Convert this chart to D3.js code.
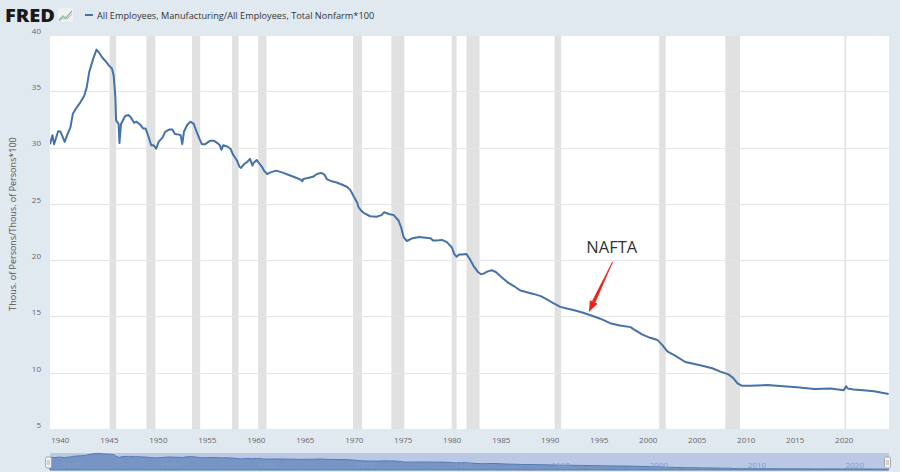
<!DOCTYPE html>
<html>
<head>
<meta charset="utf-8">
<script src="https://cdn.jsdelivr.net/npm/d3@7/dist/d3.min.js"></script>
<style>
  html, body { margin: 0; padding: 0; background: #e1e9f0; }
  svg { display: block; }
  text { font-family: "Open Sans", "Noto Sans", sans-serif; }
</style>
</head>
<body>
<svg id="chart" width="900" height="472"></svg>
<script>
// ---- Data ----
const seriesName = "All Employees, Manufacturing/All Employees, Total Nonfarm*100";
const yAxisTitle = "Thous. of Persons/Thous. of Persons*100";

const dates = [
  "1939-01","1939-04","1939-06","1939-11","1940-02","1940-07","1940-10","1941-02","1941-05","1941-10",
  "1942-02","1942-07","1942-10","1943-01","1943-06","1943-10","1944-01","1944-05","1944-10","1945-01",
  "1945-05","1945-07","1945-09","1945-10","1946-01","1946-02","1946-04","1946-09","1947-01","1947-04",
  "1947-08","1947-11","1948-04","1948-07","1948-10","1949-01","1949-05","1949-08","1949-11","1950-02",
  "1950-07","1950-10","1951-03","1951-07","1951-10","1952-03","1952-05","1952-07","1952-09","1953-01",
  "1953-05","1953-09","1953-12","1954-04","1954-07","1954-11","1955-05","1955-10","1956-02","1956-05",
  "1956-07","1956-09","1957-02","1957-06","1957-09","1958-02","1958-05","1958-07","1958-11","1959-02",
  "1959-06","1959-09","1959-10","1960-02","1960-04","1960-09","1960-11","1961-03","1961-07","1962-02",
  "1962-09","1963-08","1964-03","1964-08","1964-10","1964-11","1965-05","1965-11","1966-04","1966-09",
  "1967-01","1967-04","1967-10","1968-04","1968-11","1969-05","1969-09","1970-01","1970-05","1970-07",
  "1970-10","1971-01","1971-09","1972-05","1972-11","1973-02","1973-08","1974-02","1974-08","1974-11",
  "1975-02","1975-06","1976-01","1976-09","1977-05","1977-11","1978-02","1978-07","1979-01","1979-07",
  "1980-01","1980-04","1980-07","1980-10","1981-02","1981-07","1981-11","1982-04","1982-09","1983-01",
  "1983-04","1983-09","1984-02","1984-07","1985-01","1985-09","1986-05","1987-01","1987-09","1988-05",
  "1989-02","1989-10","1990-06","1991-02","1991-10","1992-07","1993-05","1994-03","1995-03","1996-03",
  "1997-03","1998-04","1998-08","1999-06","2000-04","2001-01","2001-07","2002-01","2002-11","2003-11",
  "2004-09","2005-09","2006-08","2007-06","2008-04","2008-10","2009-03","2009-08","2010-07","2012-03",
  "2013-11","2015-04","2017-01","2018-09","2020-01","2020-04","2020-06","2021-01","2022-01","2023-02",
  "2024-08"
];
const values = [
  30.3,31.1,30.3,31.45,31.4,30.5,31.1,31.8,33.0,33.6,
  34.0,34.6,35.35,36.7,37.9,38.7,38.45,38.0,37.6,37.3,
  37.0,36.4,34.5,32.4,32.1,30.4,32.1,32.8,32.9,32.7,
  32.2,32.3,32.0,31.7,31.7,31.1,30.2,30.2,29.9,30.5,
  30.9,31.4,31.6,31.6,31.2,31.15,31.1,30.3,31.4,32.0,
  32.3,32.1,31.5,30.8,30.3,30.3,30.6,30.6,30.4,30.2,
  29.8,30.2,30.1,29.9,29.4,28.85,28.3,28.2,28.55,28.7,
  29.0,28.4,28.6,28.9,28.7,28.25,27.95,27.65,27.8,27.95,
  27.8,27.5,27.3,27.15,27.0,27.2,27.3,27.4,27.65,27.75,
  27.6,27.2,27.0,26.9,26.7,26.5,26.2,25.65,25.15,24.7,
  24.4,24.2,23.9,23.85,24.0,24.25,24.1,24.0,23.5,22.9,
  22.05,21.7,21.95,22.05,22.0,21.95,21.75,21.75,21.8,21.6,
  21.15,20.55,20.3,20.5,20.5,20.55,20.1,19.45,18.95,18.75,
  18.8,19.0,19.1,18.95,18.55,18.05,17.7,17.3,17.15,17.0,
  16.8,16.5,16.15,15.85,15.7,15.55,15.35,15.1,14.8,14.4,
  14.2,14.05,13.85,13.4,13.1,12.9,12.45,11.9,11.5,10.95,
  10.8,10.6,10.4,10.1,9.85,9.5,9.05,8.85,8.85,8.9,
  8.8,8.7,8.55,8.6,8.45,8.8,8.6,8.5,8.45,8.35,
  8.1
];

const recessionStarts = ["1945-02","1948-11","1953-07","1957-08","1960-04","1969-12","1973-11","1980-01","1981-07","1990-07","2001-03","2007-12","2020-02"];
const recessionEnds   = ["1945-10","1949-10","1954-05","1958-04","1961-02","1970-11","1975-03","1980-07","1982-11","1991-03","2001-11","2009-06","2020-04"];

const yTicks = [5, 10, 15, 20, 25, 30, 35, 40];
const xTickYears = [1940,1945,1950,1955,1960,1965,1970,1975,1980,1985,1990,1995,2000,2005,2010,2015,2020];
const navTickYears = [1940,1950,1960,1970,1980,1990,2000,2010,2020];

const annotationText = "NAFTA";
const annotationTextAt = ["1996-05", 20.65];
const arrowFrom = ["1996-06", 19.85];
const arrowTo = ["1994-01", 15.4];

// ---- Setup ----
const parse = d3.utcParse("%Y-%m");
const data = dates.map((d, i) => ({ date: parse(d), value: values[i] }));

const W = 900, H = 472;
const plot = { left: 50, right: 889, top: 35, bottom: 429 };
const svg = d3.select("#chart");

svg.append("rect").attr("width", W).attr("height", H).attr("fill", "#e1e9f0");

const x = d3.scaleUtc()
  .domain([new Date(Date.UTC(1939, 0, 1)), new Date(Date.UTC(2024, 7, 15))])
  .range([plot.left, plot.right]);
const y = d3.scaleLinear().domain([5, 40]).range([plot.bottom, plot.top]);

// plot background
svg.append("rect")
  .attr("x", plot.left).attr("y", plot.top)
  .attr("width", plot.right - plot.left).attr("height", plot.bottom - plot.top)
  .attr("fill", "#ffffff");

// recession bands
const clipId = "plotclip";
svg.append("clipPath").attr("id", clipId).append("rect")
  .attr("x", plot.left).attr("y", plot.top)
  .attr("width", plot.right - plot.left).attr("height", plot.bottom - plot.top);

svg.append("g").attr("clip-path", `url(#${clipId})`)
  .selectAll("rect").data(recessionStarts.map((s, i) => [parse(s), parse(recessionEnds[i])]))
  .join("rect")
  .attr("x", d => x(d[0]))
  .attr("width", d => Math.max(1.5, x(d[1]) - x(d[0])))
  .attr("y", plot.top).attr("height", plot.bottom - plot.top)
  .attr("fill", "#e1e1e1");

// gridlines
svg.append("g").selectAll("line").data(yTicks.filter(v => v > 5))
  .join("line")
  .attr("x1", plot.left).attr("x2", plot.right)
  .attr("y1", d => Math.round(y(d)) + 0.5).attr("y2", d => Math.round(y(d)) + 0.5)
  .attr("stroke", "#e6e6e6").attr("stroke-width", 1);

// y axis labels
const yAxis = d3.axisLeft(y).tickValues(yTicks).tickSize(0).tickPadding(0);
const gy = svg.append("g").attr("transform", `translate(${plot.left - 9},0)`).call(yAxis);
gy.select(".domain").remove();
gy.selectAll("text")
  .attr("font-family", "'Open Sans', sans-serif")
  .attr("font-size", 8).attr("fill", "#666")
  .attr("dy", "-0.2em");

// x axis labels
const xAxis = d3.axisBottom(x)
  .tickValues(xTickYears.map(yr => new Date(Date.UTC(yr, 0, 1))))
  .tickFormat(d3.utcFormat("%Y")).tickSize(0).tickPadding(0);
const gx = svg.append("g").attr("transform", `translate(0,${plot.bottom + 8})`).call(xAxis);
gx.select(".domain").remove();
gx.selectAll("text")
  .attr("font-family", "'Open Sans', sans-serif")
  .attr("font-size", 8).attr("fill", "#666");

// y axis title
svg.append("text")
  .attr("transform", `translate(16,224) rotate(-90)`)
  .attr("text-anchor", "middle")
  .attr("font-size", 9).attr("fill", "#555")
  .text(yAxisTitle);

// series line
const line = d3.line().x(d => x(d.date)).y(d => y(d.value));
svg.append("path").datum(data)
  .attr("clip-path", `url(#${clipId})`)
  .attr("d", line)
  .attr("fill", "none")
  .attr("stroke", "#4572a7")
  .attr("stroke-width", 2)
  .attr("stroke-linejoin", "round");

// annotation
svg.append("text")
  .attr("x", x(parse(annotationTextAt[0]))).attr("y", y(annotationTextAt[1]))
  .attr("text-anchor", "middle")
  .attr("font-size", 16.5).attr("fill", "#333")
  .text(annotationText);

const ax0 = x(parse(arrowFrom[0])), ay0 = y(arrowFrom[1]);
const ax1 = x(parse(arrowTo[0])), ay1 = y(arrowTo[1]);
const ang = Math.atan2(ay1 - ay0, ax1 - ax0);
const headLen = 11, headW = 4.2;
const bx = ax1 - headLen * Math.cos(ang), by = ay1 - headLen * Math.sin(ang);
const px = Math.cos(ang + Math.PI / 2), py = Math.sin(ang + Math.PI / 2);
svg.append("path")
  .attr("d", `M${ax0},${ay0} L${bx + 1.5 * px},${by + 1.5 * py} L${bx - 1.5 * px},${by - 1.5 * py} Z`)
  .attr("fill", "#e8231b").attr("stroke", "#e8231b").attr("stroke-width", 0.7);
svg.append("path")
  .attr("d", `M${ax1},${ay1} L${bx + headW * px},${by + headW * py} L${bx - headW * px},${by - headW * py} Z`)
  .attr("fill", "#e8231b");

// ---- Header: logo + legend ----
svg.append("text")
  .attr("x", 5).attr("y", 21.5)
  .attr("font-family", "'Liberation Sans', Arial, sans-serif")
  .attr("font-weight", 900).attr("font-size", 17.5)
  .attr("textLength", 50).attr("lengthAdjust", "spacingAndGlyphs")
  .attr("fill", "#1a1a1a")
  .text("FRED");
const icon = svg.append("g").attr("transform", "translate(58,8)");
icon.append("rect").attr("width", 15).attr("height", 14).attr("fill", "#eef2f3").attr("rx", 1);
icon.append("path").attr("d", "M1,12 L5,8 L8,10 L14,3").attr("fill", "none").attr("stroke", "#8dbf8c").attr("stroke-width", 1.2);
icon.append("path").attr("d", "M1,13 L5,10 L9,11 L14,6").attr("fill", "none").attr("stroke", "#9db6cf").attr("stroke-width", 1);

svg.append("line")
  .attr("x1", 85).attr("x2", 93).attr("y1", 15).attr("y2", 15)
  .attr("stroke", "#4572a7").attr("stroke-width", 2);
svg.append("text")
  .attr("x", 97).attr("y", 18.5)
  .attr("font-size", 9.2).attr("fill", "#333")
  .text(seriesName);

// ---- Navigator ----
const nav = { top: 453, bottom: 470 };
const yNav = d3.scaleLinear().domain([6.5, 39.5]).range([nav.bottom, nav.top]);
svg.append("rect")
  .attr("x", plot.left).attr("y", nav.top)
  .attr("width", plot.right - plot.left).attr("height", nav.bottom - nav.top)
  .attr("fill", "#ffffff");
const area = d3.area().x(d => x(d.date)).y0(nav.bottom).y1(d => yNav(d.value));
svg.append("path").datum(data)
  .attr("d", area)
  .attr("fill", "#4572a7").attr("fill-opacity", 0.65)
  .attr("stroke", "#4572a7").attr("stroke-width", 1);
svg.append("g").selectAll("text").data(navTickYears)
  .join("text")
  .attr("x", d => x(new Date(Date.UTC(d, 0, 1))) + 2)
  .attr("y", nav.bottom - 2)
  .attr("font-size", 8).attr("fill", "#9fb0cf")
  .text(d => d);
svg.append("rect")
  .attr("x", plot.left).attr("y", nav.top)
  .attr("width", plot.right - plot.left).attr("height", nav.bottom - nav.top)
  .attr("fill", "rgba(102,133,194,0.45)");

[plot.left - 2, plot.right - 2].forEach(hx => {
  const g = svg.append("g").attr("transform", `translate(${hx - 2.5},${nav.top + 4})`);
  g.append("rect").attr("width", 6).attr("height", 11).attr("rx", 1.5)
    .attr("fill", "#f2f2f2").attr("stroke", "#999").attr("stroke-width", 0.8);
  g.append("line").attr("x1", 2.3).attr("x2", 2.3).attr("y1", 3).attr("y2", 8).attr("stroke", "#999").attr("stroke-width", 0.6);
  g.append("line").attr("x1", 3.7).attr("x2", 3.7).attr("y1", 3).attr("y2", 8).attr("stroke", "#999").attr("stroke-width", 0.6);
});
</script>
</body>
</html>
